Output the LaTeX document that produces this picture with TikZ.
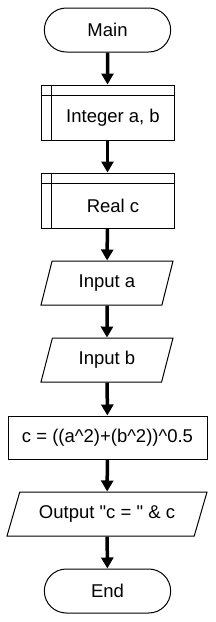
\documentclass[tikz,border=0pt]{standalone}
\usepackage{fontspec}
\setmainfont{Liberation Sans}
\usetikzlibrary{shapes.geometric,shapes.misc,arrows.meta}

\newcommand{\decltext}[1]{\hspace*{11pt}\raisebox{-5.5pt}[\height][\depth]{#1}}

\begin{document}
\begin{tikzpicture}[x=1pt,y=-1pt,
        every node/.style={font=\fontsize{18.5}{22}\selectfont, line width=1pt},
        term/.style={draw, rounded rectangle, minimum width=133pt, minimum height=44pt},
        decl/.style={draw, rectangle, minimum width=133pt, minimum height=55pt},
        io/.style={draw, trapezium, trapezium left angle=64.5, trapezium right angle=115.5,
            trapezium stretches body=true, minimum width=132pt, minimum height=44pt},
        proc/.style={draw, rectangle, minimum width=199pt, minimum height=43pt},
        flow/.style={line width=3.5pt, -{Triangle[width=12pt,length=11pt]}}]
        \useasboundingbox (0,0) rectangle (215,622);
        % 开始
        \node[term] (main) at (107.5,30) {Main};
        % 声明
        \node[decl] (int) at (107.5,112.5) {\decltext{Integer a, b}};
        \draw[line width=1pt] ([xshift=11pt]int.north west) -- ([xshift=11pt]int.south west);
        \draw[line width=1pt] ([yshift=-11pt]int.north west) -- ([yshift=-11pt]int.north east);
        \node[decl] (real) at (107.5,200.5) {\decltext{Real c}};
        \draw[line width=1pt] ([xshift=11pt]real.north west) -- ([xshift=11pt]real.south west);
        \draw[line width=1pt] ([yshift=-11pt]real.north west) -- ([yshift=-11pt]real.north east);
        % 输入
        \node[io] (ina) at (107,283) {Input a};
        \node[io] (inb) at (107,360) {Input b};
        % 计算
        \node[proc] (calc) at (107.5,437.5) {c = ((a\^{}2)+(b\^{}2))\^{}0.5};
        % 输出
        \node[io, trapezium left angle=61.4, trapezium right angle=118.6, minimum width=200pt] (out) at (107,514) {Output \textquotedbl c = \textquotedbl{} \& c};
        % 结束
        \node[term] (end) at (107.5,591) {End};
        % 箭头
        \draw[flow] (main) -- (int);
        \draw[flow] (int) -- (real);
        \draw[flow] (real) -- (ina);
        \draw[flow] (ina) -- (inb);
        \draw[flow] (inb) -- (calc);
        \draw[flow] (calc) -- (out);
        \draw[flow] (out) -- (end);
    \end{tikzpicture}
\end{document}
